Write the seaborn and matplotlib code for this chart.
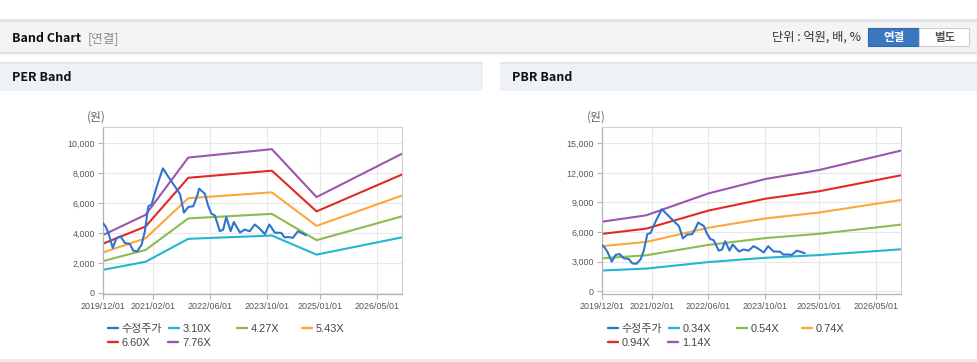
import matplotlib
matplotlib.use('Agg')
import matplotlib.pyplot as plt
import matplotlib.dates as mdates
import seaborn as sns
import pandas as pd
from matplotlib.patches import Rectangle
from matplotlib.lines import Line2D
from matplotlib.ticker import FuncFormatter

# ---------------- data ----------------
price_dates = ['2019-12-01', '2019-12-25', '2020-01-19', '2020-02-25', '2020-03-28', '2020-05-01',
               '2020-06-07', '2020-07-19', '2020-08-19', '2020-09-22', '2020-10-28', '2020-11-25',
               '2020-12-25', '2021-01-22', '2021-03-04', '2021-04-28', '2021-06-28', '2021-08-10',
               '2021-09-22', '2021-10-25', '2021-12-01', '2022-01-13', '2022-02-16', '2022-03-04',
               '2022-04-22', '2022-05-19', '2022-06-16', '2022-07-16', '2022-08-28', '2022-09-25',
               '2022-10-22', '2022-11-28', '2022-12-25', '2023-02-16', '2023-03-28', '2023-05-10',
               '2023-06-22', '2023-07-28', '2023-09-16', '2023-10-25', '2023-12-10', '2024-02-04',
               '2024-03-04', '2024-04-01', '2024-05-13', '2024-06-25', '2024-08-07', '2024-09-01']
price_values = [4680, 4450, 4000, 3000, 3670, 3780,
                3340, 3270, 2820, 2780, 3220, 4110,
                5790, 5900, 7030, 8320, 7590, 7100,
                6590, 5360, 5740, 5790, 6500, 6960,
                6620, 5850, 5300, 5170, 4120, 4230,
                5070, 4120, 4740, 4030, 4230, 4120,
                4570, 4340, 3930, 4570, 4030, 4010,
                3700, 3740, 3680, 4120, 3960, 3850]
price_label = '수정주가'

per_dates = ['2019-12-01', '2020-12-01', '2021-12-01', '2023-11-15', '2024-12-01', '2026-12-01']
per_labels = ['3.10X', '4.27X', '5.43X', '6.60X', '7.76X']
per_310 = [1541, 2083, 3612, 3835, 2558, 3714]
per_427 = [2122, 2869, 4975, 5282, 3523, 5115]
per_543 = [2699, 3649, 6326, 6717, 4480, 6505]
per_660 = [3280, 4435, 7689, 8164, 5445, 7907]
per_776 = [3857, 5215, 9040, 9599, 6402, 9296]

pbr_dates = ['2019-12-01', '2020-12-15', '2022-06-01', '2023-10-01', '2025-01-01', '2026-12-01']
pbr_labels = ['0.34X', '0.54X', '0.74X', '0.94X', '1.14X']
pbr_034 = [2101, 2295, 2958, 3393, 3665, 4250]
pbr_054 = [3337, 3645, 4698, 5389, 5821, 6750]
pbr_074 = [4573, 4995, 6438, 7385, 7977, 9250]
pbr_094 = [5809, 6345, 8178, 9381, 10133, 11750]
pbr_114 = [7045, 7695, 9918, 11377, 12289, 14250]

xtick_dates = ['2019-12-01', '2021-02-01', '2022-06-01', '2023-10-01', '2025-01-01', '2026-05-01']
xtick_labels = ['2019/12/01', '2021/02/01', '2022/06/01', '2023/10/01', '2025/01/01', '2026/05/01']
per_yticks = [0, 2000, 4000, 6000, 8000, 10000]
pbr_yticks = [0, 3000, 6000, 9000, 12000, 15000]

band_colors = ['#22b6cf', '#8dbb4f', '#fca73c', '#e02b24', '#9c56ae']
price_color = '#2f74cf'

# ---------------- figure ----------------
sns.set_style('white')
plt.rcParams['font.family'] = ['Liberation Sans', 'Noto Sans CJK KR', 'DejaVu Sans']

W, H = 978, 362
fig = plt.figure(figsize=(W / 100, H / 100), dpi=100)
fig.patch.set_facecolor('white')


def fx(px):
    return px / W


def fy(py):
    return 1 - py / H


def rect(x0, y0, x1, y1, fc, ec='none', lw=0.0, z=0):
    fig.patches.append(Rectangle((fx(x0), fy(y1)), fx(x1 - x0), (y1 - y0) / H,
                                 transform=fig.transFigure, facecolor=fc,
                                 edgecolor=ec, lw=lw, zorder=z))


KR = ['Noto Sans CJK KR', 'DejaVu Sans']

# header bar
rect(0, 19.5, 978, 21.8, '#e4e4e4')
rect(0, 21.8, 978, 51.8, '#f4f4f4')
rect(0, 51.8, 978, 52.8, '#d9d9d9')
rect(0, 52.8, 978, 54.5, '#eeeeee')
fig.text(fx(12), fy(38.5), 'Band Chart', fontsize=9, fontweight='bold', family=KR,
         va='center', ha='left', color='#111111')
fig.text(fx(88), fy(38.5), '[연결]', fontsize=9, family=KR, va='center', ha='left', color='#8a8a8a')
fig.text(fx(861), fy(37.5), '단위 : 억원, 배, %', fontsize=8.8, family=KR, va='center', ha='right',
         color='#333333')
rect(868, 28.3, 919.3, 45.7, '#3a77c0', ec='#2f65a9', lw=0.8)
rect(919.3, 28.3, 969.3, 45.7, '#ffffff', ec='#cfcfcf', lw=0.8)
fig.text(fx(893.6), fy(37.3), '연결', fontsize=8.3, fontweight='bold', family=KR, va='center',
         ha='center', color='white')
fig.text(fx(944.3), fy(37.3), '별도', fontsize=8.3, fontweight='bold', family=KR, va='center',
         ha='center', color='#555555')

# panel headers
for x0, x1, title in [(0, 483, 'PER Band'), (500, 978, 'PBR Band')]:
    rect(x0, 61.8, x1, 63.5, '#e2e6ec')
    rect(x0, 63.5, x1, 91, '#eef2f7')
    fig.text(fx(x0 + 12), fy(77.5), title, fontsize=9, fontweight='bold', family=KR,
             va='center', ha='left', color='#111111')

# bottom separator
rect(0, 359, 978, 362, '#ececec')

# unit labels
fig.text(fx(86.5), fy(116.7), '(원)', fontsize=8.5, family=KR, va='center', ha='left', color='#666666')
fig.text(fx(586.5), fy(116.7), '(원)', fontsize=8.5, family=KR, va='center', ha='left', color='#666666')

ax1 = fig.add_axes([fx(102.7), fy(294.3), fx(402 - 102.7), (294.3 - 126.7) / H])
ax2 = fig.add_axes([fx(601.7), fy(294.0), fx(900.7 - 601.7), (294.0 - 127.3) / H])


def build_df(dates, bands, labels):
    frames = []
    for vals, lab in zip(bands, labels):
        frames.append(pd.DataFrame({'date': pd.to_datetime(dates), 'value': vals, 'series': lab}))
    return pd.concat(frames, ignore_index=True)


price_df = pd.DataFrame({'date': pd.to_datetime(price_dates), 'value': price_values})

per_df = build_df(per_dates, [per_310, per_427, per_543, per_660, per_776], per_labels)
pbr_df = build_df(pbr_dates, [pbr_034, pbr_054, pbr_074, pbr_094, pbr_114], pbr_labels)

comma = FuncFormatter(lambda v, p: f'{int(v):,}')


def draw(ax, df, labels, yticks, ylim):
    sns.lineplot(data=df, x='date', y='value', hue='series', hue_order=labels,
                 palette=band_colors, estimator=None, legend=False, ax=ax, lw=1.5)
    sns.lineplot(data=price_df, x='date', y='value', color=price_color, estimator=None,
                 legend=False, ax=ax, lw=1.5, zorder=5)
    ax.set_xlim(pd.Timestamp('2019-12-01'), pd.Timestamp('2026-12-01'))
    ax.set_ylim(*ylim)
    ax.set_xticks(mdates.date2num(pd.to_datetime(xtick_dates)))
    ax.set_xticklabels(xtick_labels)
    ax.set_yticks(yticks)
    ax.yaxis.set_major_formatter(comma)
    ax.set_xlabel('')
    ax.set_ylabel('')
    ax.grid(True, color='#e8e8e8', lw=0.8)
    ax.set_axisbelow(True)
    for s in ['top', 'right']:
        ax.spines[s].set_color('#d0d0d0')
        ax.spines[s].set_linewidth(0.8)
    for s in ['left', 'bottom']:
        ax.spines[s].set_color('#b4b4b4')
        ax.spines[s].set_linewidth(0.9)
    ax.tick_params(axis='both', bottom=True, left=True, length=3.5, width=0.8, color='#b4b4b4',
                   labelsize=6.4, labelcolor='#555555', pad=2)
    for t in ax.get_xticklabels() + ax.get_yticklabels():
        t.set_family(['Liberation Sans', 'DejaVu Sans'])


draw(ax1, per_df, per_labels, per_yticks, (-90, 11100))
draw(ax2, pbr_df, pbr_labels, pbr_yticks, (-280, 16620))


def add_leg(label, color, px, py):
    h = Line2D([], [], color=color, lw=1.7)
    fig.legend([h], [label], loc='center left', bbox_to_anchor=(fx(px), fy(py)),
               bbox_transform=fig.transFigure, frameon=False, borderpad=0, borderaxespad=0,
               handlelength=0.9, handletextpad=0.33, labelcolor='#444444',
               prop={'family': ['Liberation Sans', 'Noto Sans CJK KR'], 'size': 7.9})


for base, labels in [(0, per_labels), (500, pbr_labels)]:
    row1 = [(price_label, price_color, 107.7), (labels[0], band_colors[0], 169.0),
            (labels[1], band_colors[1], 236.7), (labels[2], band_colors[2], 301.7)]
    row2 = [(labels[3], band_colors[3], 107.7), (labels[4], band_colors[4], 168.5)]
    for lab, col, px in row1:
        add_leg(lab, col, base + px, 329.3)
    for lab, col, px in row2:
        add_leg(lab, col, base + px, 342.7)

fig.savefig('out.png', dpi=100, facecolor='white')
